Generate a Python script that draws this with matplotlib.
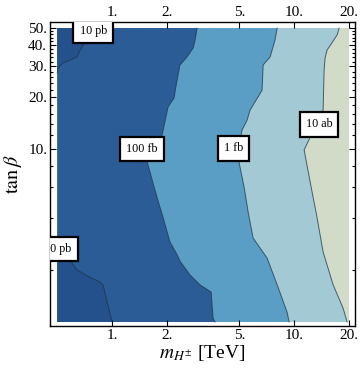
import matplotlib as mpl
mpl.use('Agg')
import matplotlib.pyplot as plt
from matplotlib.ticker import FixedLocator, NullLocator, FixedFormatter

plt.rcParams['font.family'] = ['Liberation Serif', 'DejaVu Serif']
plt.rcParams['mathtext.fontset'] = 'stix'

# contour lines of the cross section (m in TeV, tan beta)
m_10pb_hi = [0.50, 0.505, 0.538, 0.642, 0.667, 0.711, 0.738, 0.757]
t_10pb_hi = [27.5, 29.4, 31.4, 34.0, 37.3, 41.5, 45.0, 50.0]

m_10pb_lo = [0.50, 0.603, 0.642, 0.729, 0.859, 0.892, 0.939, 1.0]
t_10pb_lo = [2.68, 2.19, 2.00, 1.85, 1.70, 1.64, 1.31, 1.0]

m_100fb = [2.93, 2.86, 2.79, 2.58, 2.36, 2.25, 2.19, 2.03, 1.91, 1.84, 1.56, 1.66,
           1.72, 1.77, 1.91, 2.08, 2.28, 2.36, 2.68, 3.04, 3.50, 3.59, 3.68]
t_100fb = [50.0, 42.7, 38.4, 34.0, 30.6, 23.4, 19.7, 17.5, 12.9, 10.8, 8.41, 6.62,
           5.80, 5.21, 3.99, 2.90, 2.44, 2.25, 1.87, 1.64, 1.49, 1.05, 1.0]

m_1fb = [8.07, 7.86, 7.57, 7.38, 6.76, 6.67, 6.34, 5.73, 5.52, 5.18, 5.05, 4.99,
         5.31, 5.59, 5.95, 7.11, 8.07, 9.15, 9.39]
t_1fb = [50.0, 42.7, 37.3, 34.0, 30.6, 21.9, 20.0, 16.8, 14.7, 12.9, 11.3, 8.30,
         6.03, 4.32, 3.06, 2.34, 1.64, 1.14, 1.0]

m_10ab = [17.67, 17.23, 15.18, 14.80, 14.62, 14.43, 11.35, 12.40, 13.38, 14.43,
          16.38, 18.59, 19.55]
t_10ab = [50.0, 45.6, 37.3, 33.6, 28.6, 16.8, 9.87, 6.03, 3.99, 2.54, 1.64, 1.20, 1.0]

# contour labels: text, m, tan beta
labels = ["10 pb", "10 pb", "100 fb", "1 fb", "10 ab"]
label_m = [0.787, 0.505, 1.46, 4.65, 13.7]
label_t = [48.1, 2.64, 10.0, 10.07, 13.86]

m_min, m_max = 0.5, 20.0
t_min, t_max = 1.0, 50.0

xticks = [1, 2, 5, 10, 20]
yticks = [10, 20, 30, 40, 50]
yminor = [2, 4, 6, 8, 12, 14, 16, 18, 22, 24, 26, 28, 32, 34, 36, 38, 42, 44, 46, 48]

c_lt = '#d1dbc8'
c_1 = '#a2c9d4'
c_2 = '#5b9ec5'
c_3 = '#2c5c95'
c_4 = '#24518b'
c_line = '#1e3448'

fig = plt.figure(figsize=(3.6, 3.75), dpi=100)
ax = fig.add_axes([50 / 360, 1 - 326 / 375, 305 / 360, 304 / 375])
ax.set_xscale('log')
ax.set_yscale('log')

ax.fill([m_min, m_max, m_max, m_min], [t_min, t_min, t_max, t_max], color=c_lt, lw=0)
for mm, tt, col in [(m_10ab, t_10ab, c_1), (m_1fb, t_1fb, c_2), (m_100fb, t_100fb, c_3)]:
    ax.fill([m_min] + mm + [m_min], [t_max] + tt + [t_min], color=col, lw=0)
ax.fill(m_10pb_hi + [m_min], t_10pb_hi + [t_max], color=c_4, lw=0)
ax.fill(m_10pb_lo + [m_min], t_10pb_lo + [t_min], color=c_4, lw=0)

for mm, tt in [(m_10pb_hi, t_10pb_hi), (m_10pb_lo, t_10pb_lo), (m_100fb, t_100fb),
               (m_1fb, t_1fb), (m_10ab, t_10ab)]:
    ax.plot(mm, tt, color=c_line, lw=0.7, alpha=0.75)

for s, x, y in zip(labels, label_m, label_t):
    ax.text(x, y, s, fontsize=8.7, ha='center', va='center', zorder=5, clip_on=True,
            bbox=dict(boxstyle='square,pad=0.5', fc='white', ec='black', lw=1.6))

ax.set_xlim(0.456, 21.6)
ax.set_ylim(0.948, 54.2)

ax.xaxis.set_major_locator(FixedLocator(xticks))
ax.xaxis.set_major_formatter(FixedFormatter([str(v) + '.' for v in xticks]))
ax.xaxis.set_minor_locator(NullLocator())
ax.yaxis.set_major_locator(FixedLocator(yticks))
ax.yaxis.set_major_formatter(FixedFormatter([str(v) + '.' for v in yticks]))
ax.yaxis.set_minor_locator(FixedLocator(yminor))
ax.yaxis.set_minor_formatter(FixedFormatter([''] * len(yminor)))

ax.tick_params(which='both', direction='in', top=True, right=True, labeltop=True,
               labelsize=11, width=0.8, pad=2)
ax.tick_params(which='major', length=4.5)
ax.tick_params(which='minor', length=2.5)
for sp in ax.spines.values():
    sp.set_linewidth(1.0)

ax.set_xlabel(r'$m_{H^{\pm}}$ [TeV]', fontsize=14, labelpad=1)
ax.set_ylabel(r'$\tan\beta$', fontsize=14.5, labelpad=3)

plt.savefig('out.png', dpi=100)
plt.close()
